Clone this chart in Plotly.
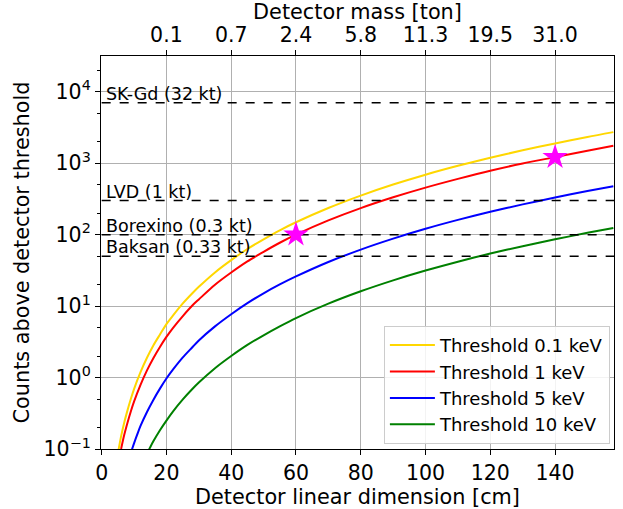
import numpy as np
import plotly.graph_objects as go

# Detector linear dimension [cm] and expected counts above threshold
x_yellow = [5, 6, 7, 8, 9, 10, 12, 14, 16, 18, 20, 22, 25, 28, 30, 35, 40, 45, 50, 55, 60, 70, 80, 90, 100, 110, 120, 130, 140, 150, 158]
y_yellow = [0.086, 0.15, 0.237, 0.35, 0.50, 0.69, 1.19, 1.89, 2.83, 4.0, 5.6, 7.35, 10.8, 15.1, 18.6, 29.6, 44, 62.9, 86, 115, 149, 236, 352, 502, 690, 918, 1190, 1515, 1890, 2330, 2720]

x_red = [6, 7, 8, 9, 10, 12, 14, 16, 18, 20, 22, 25, 28, 30, 35, 40, 45, 50, 55, 60, 70, 80, 90, 100, 110, 120, 130, 140, 150, 158]
y_red = [0.10, 0.159, 0.235, 0.335, 0.46, 0.79, 1.26, 1.88, 2.68, 3.7, 4.93, 7.2, 10.2, 12.4, 19.9, 29.5, 42.2, 57.5, 77, 100, 158, 235, 333, 455, 603, 785, 990, 1215, 1490, 1750]

x_blue = [9, 10, 11, 12, 14, 16, 18, 20, 22, 25, 28, 30, 35, 40, 45, 50, 55, 60, 70, 80, 90, 100, 110, 120, 130, 140, 150, 158]
y_blue = [0.088, 0.12, 0.16, 0.21, 0.33, 0.49, 0.70, 0.97, 1.29, 1.9, 2.65, 3.3, 5.2, 7.7, 11.0, 15.1, 20.1, 26, 41.4, 61.8, 88, 121, 161, 209, 265, 331, 407, 476]

x_green = [14, 15, 16, 18, 20, 22, 25, 28, 30, 35, 40, 45, 50, 55, 60, 70, 80, 90, 100, 110, 120, 130, 140, 150, 158]
y_green = [0.086, 0.106, 0.129, 0.183, 0.25, 0.334, 0.49, 0.69, 0.85, 1.35, 2.0, 2.86, 3.9, 5.2, 6.8, 10.8, 16.1, 22.9, 31.4, 41.8, 54.3, 69, 86, 106, 124]

series_names = ["Threshold 0.1 keV", "Threshold 1 keV", "Threshold 5 keV", "Threshold 10 keV"]
series_colors = ["#FFD700", "#FF0000", "#0000FF", "#008000"]

# Reference experiments (horizontal dashed lines)
ref_names = ["SK-Gd (32 kt)", "LVD (1 kt)", "Borexino (0.3 kt)", "Baksan (0.33 kt)"]
ref_counts = [7000, 300, 100, 50]

# Highlighted detector configurations
star_x = [60, 140]
star_y = [100, 1213]

# Top axis: detector mass
mass_tick_pos = [20, 40, 60, 80, 100, 120, 140]
mass_tick_text = ["0.1", "0.7", "2.4", "5.8", "11.3", "19.5", "31.0"]

x_range = [-0.2, 158.2]
x_ref_line = [0, 158.2]

FONT = "DejaVu Sans"
FS_SMALL = 18     # legend and line labels
FS_TICK = 20.5    # tick labels
FS_TITLE = 20.8   # axis titles

fig = go.Figure()

for xs, ys, name, col in zip([x_yellow, x_red, x_blue, x_green],
                             [y_yellow, y_red, y_blue, y_green],
                             series_names, series_colors):
    fig.add_trace(go.Scatter(x=xs, y=ys, mode="lines", name=name,
                             line=dict(color=col, width=2, shape="spline", smoothing=0.8)))

for name, val in zip(ref_names, ref_counts):
    fig.add_trace(go.Scatter(x=x_ref_line, y=[val, val], mode="lines", showlegend=False,
                             line=dict(color="black", width=1.5, dash="dash"), hoverinfo="skip"))
    fig.add_annotation(x=0.8, y=np.log10(val), xref="x", yref="y", text=name,
                       showarrow=False, xanchor="left", yanchor="middle", yshift=9,
                       font=dict(family=FONT, size=17.5, color="black"))

fig.add_trace(go.Scatter(x=star_x, y=star_y, mode="markers", showlegend=False,
                         marker=dict(symbol="star", size=19, color="#FF00FF",
                                     line=dict(width=0))))

# invisible trace so the top axis is drawn
fig.add_trace(go.Scatter(x=mass_tick_pos, y=[None] * len(mass_tick_pos), xaxis="x2",
                         showlegend=False, hoverinfo="skip", mode="markers"))

yticks = [0.1, 1, 10, 100, 1000, 10000]
ytext = ["10<sup>−1</sup>", "10<sup>0</sup>", "10<sup>1</sup>", "10<sup>2</sup>", "10<sup>3</sup>", "10<sup>4</sup>"]

fig.update_layout(
    width=623, height=509,
    margin=dict(l=101, r=9, t=56, b=60),
    paper_bgcolor="white", plot_bgcolor="white",
    font=dict(family=FONT, size=FS_SMALL, color="black"),
    xaxis=dict(range=x_range, tickvals=[0, 20, 40, 60, 80, 100, 120, 140],
               ticks="outside", ticklen=5, tickcolor="black", tickfont=dict(size=FS_TICK),
               showline=True, linecolor="black", linewidth=1.2, mirror=True,
               showgrid=True, gridcolor="#b0b0b0", gridwidth=1, zeroline=False, automargin=False,
               title=dict(text="Detector linear dimension [cm]", font=dict(size=FS_TITLE), standoff=4)),
    xaxis2=dict(range=x_range, overlaying="x", side="top", anchor="y",
                tickvals=mass_tick_pos, ticktext=mass_tick_text,
                ticks="outside", ticklen=5, tickcolor="black", tickfont=dict(size=FS_TICK),
                showgrid=False, zeroline=False, showline=False, automargin=False,
                title=dict(text="Detector mass [ton]", font=dict(size=FS_TITLE), standoff=2)),
    yaxis=dict(type="log", range=[-1, 4.5], tickvals=yticks, ticktext=ytext,
               ticks="outside", ticklen=5, tickcolor="black", tickfont=dict(size=FS_TICK),
               minor=dict(ticks="outside", ticklen=3, tickcolor="black", showgrid=False),
               showline=True, linecolor="black", linewidth=1.2, mirror=True,
               showgrid=True, gridcolor="#b0b0b0", gridwidth=1, zeroline=False, automargin=False,
               title=dict(text="Counts above detector threshold", font=dict(size=FS_TITLE), standoff=8)),
    legend=dict(x=0.992, y=0.013, xanchor="right", yanchor="bottom",
                bgcolor="rgba(255,255,255,0.85)", bordercolor="#cccccc", borderwidth=1,
                font=dict(family=FONT, size=FS_SMALL), tracegroupgap=0, itemwidth=45),
)

fig.write_html("out.html")
